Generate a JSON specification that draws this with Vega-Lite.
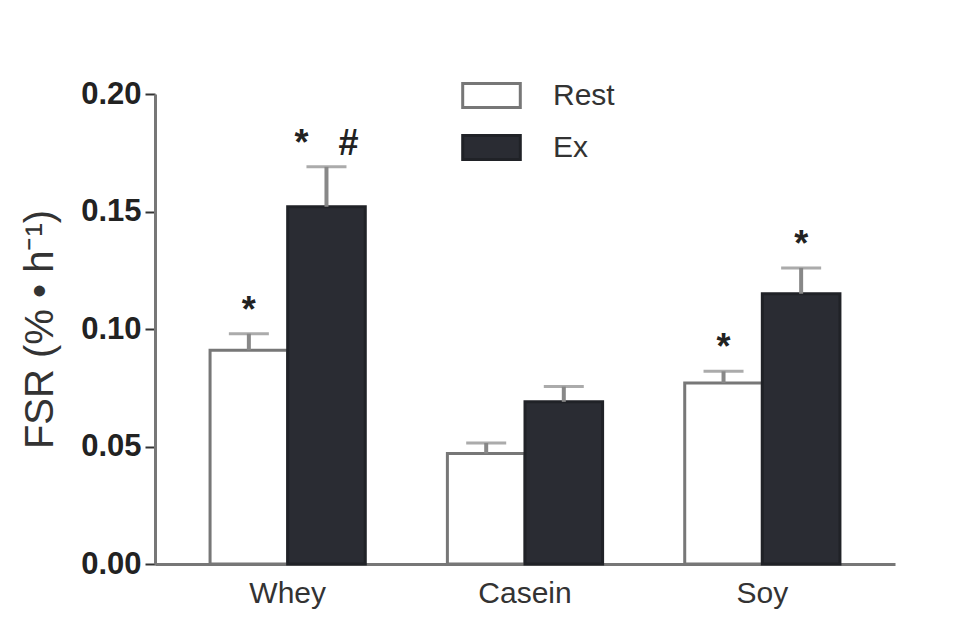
{
  "$schema": "https://vega.github.io/schema/vega-lite/v6.json",
  "width": 740,
  "height": 470,
  "autosize": {"type": "pad"},
  "padding": {"left": 20, "top": 70, "right": 10, "bottom": 10},
  "background": "white",
  "config": {"view": {"stroke": null}, "font": "Liberation Sans"},
  "data": {
    "values": [
      {"protein": "Whey", "condition": "Rest", "value": 0.091, "upper": 0.098, "sig": "*"},
      {"protein": "Whey", "condition": "Ex", "value": 0.152, "upper": 0.169, "sig": "*\u00a0\u00a0\u00a0#"},
      {"protein": "Casein", "condition": "Rest", "value": 0.047, "upper": 0.0515, "sig": ""},
      {"protein": "Casein", "condition": "Ex", "value": 0.069, "upper": 0.0755, "sig": ""},
      {"protein": "Soy", "condition": "Rest", "value": 0.077, "upper": 0.082, "sig": "*"},
      {"protein": "Soy", "condition": "Ex", "value": 0.115, "upper": 0.126, "sig": "*"}
    ]
  },
  "encoding": {
    "x": {
      "field": "protein",
      "type": "nominal",
      "sort": ["Whey", "Casein", "Soy"],
      "scale": {"paddingInner": 0.346, "paddingOuter": 0.232},
      "axis": {
        "title": null,
        "labelAngle": 0,
        "ticks": false,
        "domainColor": "#777",
        "domainWidth": 3,
        "labelFontSize": 30,
        "labelColor": "#333",
        "labelPadding": 14
      }
    },
    "xOffset": {
      "field": "condition",
      "type": "nominal",
      "sort": ["Rest", "Ex"],
      "scale": {"paddingInner": 0, "paddingOuter": 0}
    }
  },
  "layer": [
    {
      "mark": {"type": "bar", "strokeWidth": 3},
      "encoding": {
        "y": {
          "field": "value",
          "type": "quantitative",
          "scale": {"domain": [0, 0.2], "nice": false},
          "axis": {
            "values": [0, 0.05, 0.1, 0.15, 0.2],
            "format": ".2f",
            "grid": false,
            "domainColor": "#777",
            "domainWidth": 3,
            "tickColor": "#333",
            "tickSize": 10,
            "tickWidth": 2,
            "labelFontSize": 31,
            "labelFontWeight": "bold",
            "labelColor": "#222",
            "labelPadding": 4,
            "title": "FSR (% • h⁻¹)",
            "titleFontSize": 40,
            "titleFontWeight": "normal",
            "titleColor": "#333",
            "titlePadding": 20
          }
        },
        "color": {
          "field": "condition",
          "type": "nominal",
          "sort": ["Rest", "Ex"],
          "scale": {"domain": ["Rest", "Ex"], "range": ["#ffffff", "#2a2c33"]},
          "legend": {
            "orient": "none",
            "legendX": 311,
            "legendY": -24,
            "padding": 0,
            "title": null,
            "symbolType": "M-1.2,-0.5H1.2V0.5H-1.2Z",
            "symbolSize": 2304,
            "symbolStrokeWidth": 3,
            "symbolStrokeColor": "#666",
            "symbolOpacity": 1,
            "labelFontSize": 30,
            "labelColor": "#333",
            "labelOffset": 36,
            "rowPadding": 8
          }
        },
        "stroke": {
          "field": "condition",
          "type": "nominal",
          "scale": {"domain": ["Rest", "Ex"], "range": ["#777777", "#202227"]},
          "legend": null
        }
      }
    },
    {
      "mark": {"type": "rule", "color": "#888", "strokeWidth": 4},
      "encoding": {
        "y": {"field": "value", "type": "quantitative"},
        "y2": {"field": "upper"}
      }
    },
    {
      "mark": {"type": "tick", "color": "#888", "size": 40, "thickness": 3},
      "encoding": {
        "y": {"field": "upper", "type": "quantitative"}
      }
    },
    {
      "mark": {"type": "text", "fontSize": 36, "fontWeight": "bold", "dy": -12, "baseline": "alphabetic", "align": "center", "color": "#222"},
      "encoding": {
        "y": {"field": "upper", "type": "quantitative"},
        "text": {"field": "sig"}
      }
    }
  ]
}
